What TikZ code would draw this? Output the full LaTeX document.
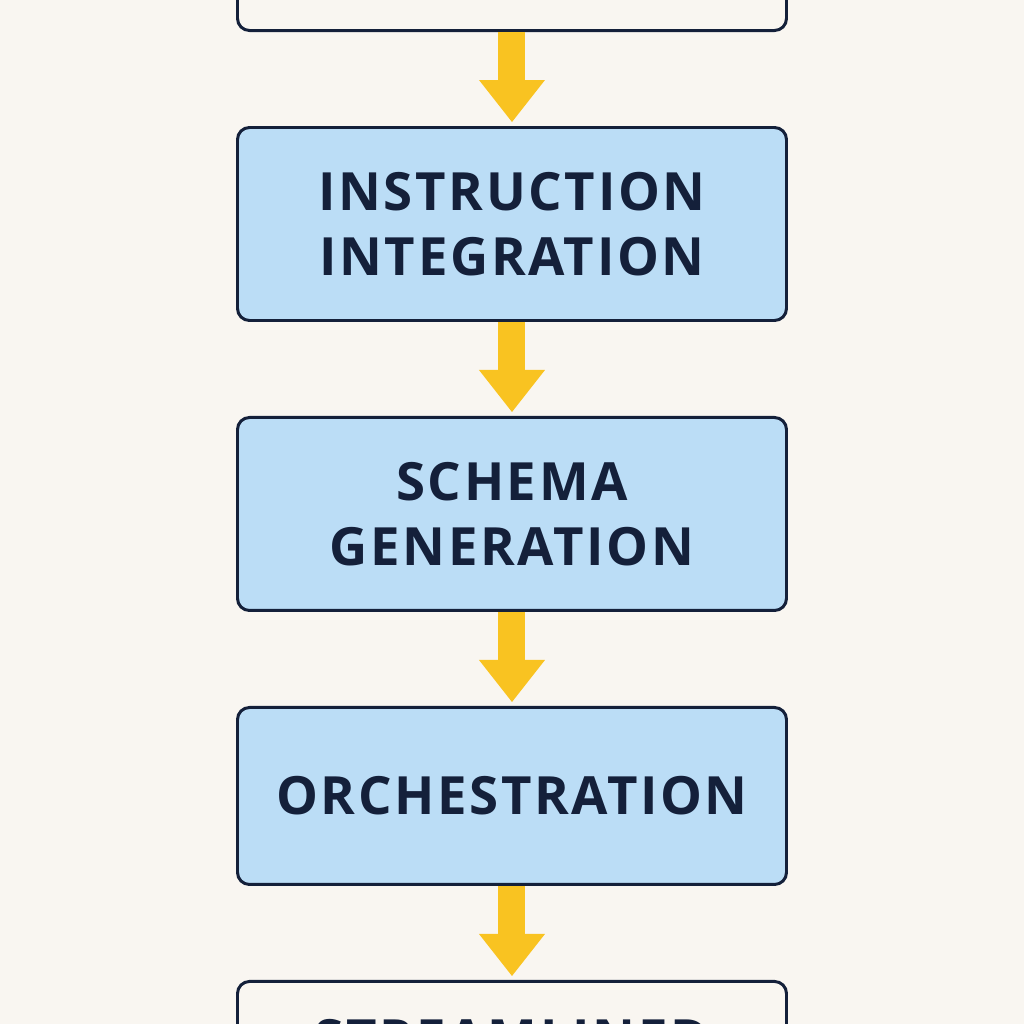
\documentclass[tikz,border=0pt]{standalone}
\usepackage{fontspec}
\setmainfont{Open Sans}[LetterSpace=5]
\usetikzlibrary{arrows.meta, positioning}
\definecolor{cream}{HTML}{F9F6F1}
\definecolor{paleblue}{HTML}{BBDDF6}
\definecolor{navy}{HTML}{14203A}
\definecolor{amber}{HTML}{F9C321}

\begin{document}
\begin{tikzpicture}[
  stage/.style={draw=navy, line width=1.7pt, rounded corners=0.24cm, fill=paleblue,
                minimum width=10.98cm, minimum height=3.86cm, align=center, inner sep=0pt,
                text=navy, font=\fontsize{30}{37}\selectfont\bfseries},
  plain/.style={stage, fill=cream},
  flow/.style={draw=amber, line width=0.54cm,
               -{Triangle[width=1.32cm, length=0.84cm, line width=0pt]}, shorten >=0.08cm}
]
% page and clipping
\fill[cream] (-10.24,0) rectangle (10.24,-20.48);
\clip (-10.24,0) rectangle (10.24,-20.48);

\node[plain, anchor=south] (b1) at (0,-0.64) {};
\node[stage, below=1.88cm of b1] (b2) {INSTRUCTION\\INTEGRATION};
\node[stage, below=1.88cm of b2] (b3) {SCHEMA\\GENERATION};
\node[stage, below=1.88cm of b3, minimum height=3.54cm] (b4) {ORCHESTRATION};
\node[plain, below=1.88cm of b4, minimum height=2.3cm] (b5) {STREAMLINED};

% arrows between stages
\draw[flow] (b1) -- (b2);
\draw[flow] (b2) -- (b3);
\draw[flow] (b3) -- (b4);
\draw[flow] (b4) -- (b5);
\end{tikzpicture}
\end{document}
